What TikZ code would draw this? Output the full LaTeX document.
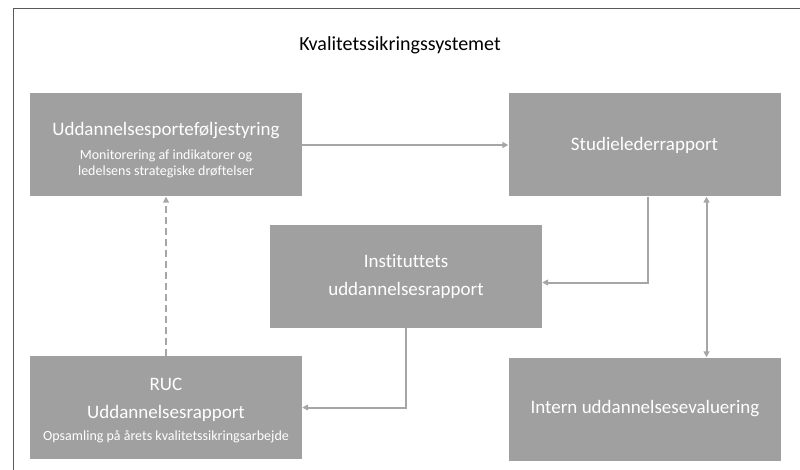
\documentclass[tikz,border=0pt]{standalone}
\usepackage{fontspec}
\setmainfont[Ligatures=NoCommon]{Carlito}
\usepackage{xcolor}
\usetikzlibrary{arrows.meta}

\definecolor{boxgray}{HTML}{A0A0A0}
\definecolor{linegray}{HTML}{A6A6A6}
\definecolor{framegray}{HTML}{595959}

\tikzset{
  blok/.style = {fill=boxgray, text=white, align=center, inner sep=0pt,
    minimum width=272pt, minimum height=103pt, font=\fontsize{19}{28}\selectfont},
  bloktekst/.style = {text=white, align=center, font=\fontsize{19}{28}\selectfont},
  pil/.style = {draw=linegray, line width=2pt,
    -{Triangle[width=6pt,length=6pt]}},
}
\newcommand\undertekst[1]{{\fontsize{14}{16}\selectfont #1}}

\begin{document}
\begin{tikzpicture}[x=1pt, y=-1pt]
			\useasboundingbox (0,0) rectangle (800,470);

			% ramme
			\draw[framegray, line width=0.9pt] (13,470) |- (800,8);
			\node[font=\fontsize{20}{24}\selectfont] (titel) at (400,45) {Kvalitetssikringssystemet};

			\node[blok] (portefolje) at (166,145) {};
			\node[bloktekst] (portefoljetekst) at (166,150)
				{Uddannelsesporteføljestyring\\[-4pt]
				\undertekst{Monitorering af indikatorer og}\\[-12pt]
				\undertekst{ledelsens strategiske drøftelser}};
			\node[blok] (studieleder) at (644.5,145) {Studielederrapport};
			\node[blok] (institut) at (406,276.5) {Instituttets\\uddannelsesrapport};
			\node[blok] (ruc) at (166,407.5) {};
			\node[bloktekst] (ructekst) at (166,411)
				{RUC\\Uddannelsesrapport\\[-6pt]
				\undertekst{Opsamling på årets kvalitetssikringsarbejde}};
			\node[blok] (intern) at (645,409) {Intern uddannelsesevaluering};

			\draw[pil] (portefolje.east) -- (studieleder.west);
			\draw[pil] ([xshift=3.5pt]studieleder.south) |- ([yshift=-6pt]institut.east);
			\draw[pil, {Triangle[width=6pt,length=6pt]}-{Triangle[width=6pt,length=6pt]}]
				([xshift=62pt]studieleder.south) -- ([xshift=62pt]studieleder.south |- intern.north);
			\draw[pil] (institut.south) |- (ruc.east);
			\draw[pil, dashed, dash pattern=on 7pt off 4pt] (ruc.north) -- (portefolje.south);
		\end{tikzpicture}
\end{document}
